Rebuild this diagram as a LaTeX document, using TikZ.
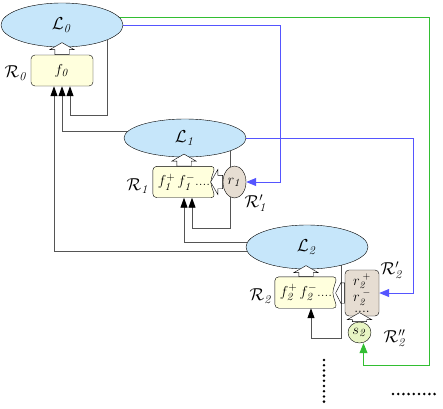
\documentclass[tikz,border=0pt]{standalone}
\usepackage{amsmath,amssymb}
\usetikzlibrary{calc,arrows.meta,positioning,shapes.geometric,shapes.arrows,backgrounds}
\definecolor{lblue}{RGB}{198,230,250}
\definecolor{lyellow}{RGB}{255,255,221}
\definecolor{lbeige}{RGB}{230,221,210}
\definecolor{lgreen}{RGB}{232,245,196}
\definecolor{lgrey}{RGB}{85,85,85}
\definecolor{fblue}{RGB}{85,85,255}
\definecolor{fgreen}{RGB}{50,190,50}

\begin{document}
\begin{tikzpicture}[x=1pt, y=-1pt, font=\fontsize{15}{17}\selectfont,
    level/.style = {ellipse, draw, fill=lblue, minimum width=122pt, minimum height=44pt, inner sep=0pt, font=\fontsize{18}{20}\selectfont},
    rulebox/.style = {minimum width=62pt, minimum height=31pt, inner sep=0pt},
    hollow/.style = {single arrow, draw, fill=white, anchor=tail, inner xsep=0pt, inner ysep=7pt, minimum height=12pt, single arrow head extend=5pt, single arrow tip angle=120},
    link/.style = {draw=lgrey, line width=0.9pt},
    arr/.style = {-{Triangle[length=10pt,width=7pt,color=black]}},
    barr/.style = {-{Triangle[length=10pt,width=8pt]}},
    lbl/.style = {inner sep=1pt, font=\fontsize{18}{20}\selectfont},
    dots/.style = {line width=2.8pt, line cap=round, dash pattern=on 0pt off 5.2pt}]
    \useasboundingbox (0,0) rectangle (443,408);

    % levels and rules
    \node[level] (L0) at (62,25) {$\mathcal{L}_{\mathit{0}}$};
    \node[rulebox, draw, fill=lyellow, rounded corners=4pt] (f0) at (62,70.5) {$f_{\mathit{0}}$};
    \node[level, minimum height=38pt] (L1) at (185,138) {$\mathcal{L}_{\mathit{1}}$};
    \node[rulebox] (f1) at (184,182) {$f_{\mathit{1}}^{+}\,f_{\mathit{1}}^{-}$....};
    \node[ellipse, draw, fill=lbeige, minimum width=23pt, minimum height=32pt, inner sep=0pt] (r1) at (234.5,182) {$r_{\mathit{1}}$};
    \node[level] (L2) at (307,247) {$\mathcal{L}_{\mathit{2}}$};
    \node[rulebox] (f2) at (306,292.5) {$f_{\mathit{2}}^{+}\,f_{\mathit{2}}^{-}$....};
    \node[draw, fill=lbeige, rounded corners=4pt, minimum width=34pt, minimum height=46pt, inner sep=0pt, align=center, font=\fontsize{14}{13}\selectfont] (r2) at (362,293) {$r_{\mathit{2}}^{\;+}$\\$r_{\mathit{2}}^{\;-}$\\[-2pt]....};
    \node[ellipse, draw, fill=lgreen, minimum width=23pt, minimum height=21pt, inner sep=0pt] (s2) at (359.5,332.5) {$s_{\mathit{2}}$};

    % labels
    \node[lbl] (R0) at (16,73) {$\mathcal{R}_{\mathit{0}}$};
    \node[lbl] (R1) at (138,186) {$\mathcal{R}_{\mathit{1}}$};
    \node[lbl] (R1p) at (256,203) {$\mathcal{R}'_{\mathit{1}}$};
    \node[lbl] (R2) at (261,296) {$\mathcal{R}_{\mathit{2}}$};
    \node[lbl] (R2p) at (392,270) {$\mathcal{R}'_{\mathit{2}}$};
    \node[lbl] (R2pp) at (395,338) {$\mathcal{R}''_{\mathit{2}}$};

    % hollow arrows
    \node[hollow, rotate=90] (h0) at (f0.north) {};
    \node[hollow, rotate=90] (h1) at (f1.north) {};
    \node[hollow, rotate=90, minimum height=11pt] (h2) at (f2.north) {};
    \node[hollow, rotate=90, minimum height=9pt] (hs) at (s2.north) {};
    \node[hollow, rotate=180, inner ysep=6.5pt, single arrow head extend=6pt] (hr1) at (r1.west) {};
    \node[hollow, rotate=180, fill=none, inner ysep=10pt, single arrow head extend=0.01pt, single arrow tip angle=125, minimum height=9pt] (hr2) at (r2.west) {};

    \begin{scope}[on background layer]
    % feedback into the rules
    \draw[link, arr] (L0.-18) -- ++(0,76) -| ([xshift=8pt]f0.south);
    \draw[link, arr] (L1.174) -| (f0.south);
    \draw[link, arr] (L2.184) -| ([xshift=-8pt]f0.south);
    \draw[link, arr] (L2.176) -| (f1.south);
    \draw[link, arr] (L1.-16) -- ++(0,77) -| ([xshift=8pt]f1.south);
    \draw[link, arr] (L2.-28) -- ++(0,73) -| ([xshift=5pt]f2.south);
    % coloured feedback
    \draw[fblue, line width=0.9pt, barr] (L0.east) -- ++(157,0) |- (r1.east);
    \draw[fblue, line width=0.9pt, barr] (L1.east) -- ++(167,0) |- (r2.east);
    \draw[fgreen, line width=0.9pt, barr] (L0.8) -| ($(s2.south)+(69.5,22)$) -| ([xshift=4pt]s2.south);
    % notched rule boxes
    \path[draw, fill=lyellow, rounded corners=4pt] (f1.north west) -- (f1.north east) -- ([xshift=-5pt]f1.east) -- (f1.south east) -- (f1.south west) -- cycle;
    \path[draw, fill=lyellow, rounded corners=4pt] (f2.north west) -- (f2.north east) -- ([xshift=-5pt]f2.east) -- (f2.south east) -- (f2.south west) -- cycle;
    \end{scope}

    \draw[dots] (324,360) -- (324,406);
    \draw[dots] (393,394) -- (438,394);
\end{tikzpicture}
\end{document}
